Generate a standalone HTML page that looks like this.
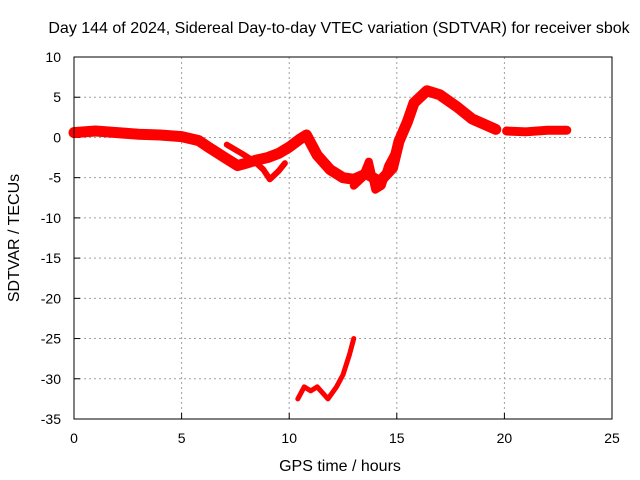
<!DOCTYPE html>
<html><head><meta charset="utf-8"><style>
body{margin:0;background:#fff}
svg{display:block;font-family:"Liberation Sans",sans-serif}
</style></head><body>
<svg id="chart" width="640" height="480">
<rect width="640" height="480" fill="#fff"/>
<text x="339" y="33" text-anchor="middle" font-size="16">Day 144 of 2024, Sidereal Day-to-day VTEC variation (SDTVAR) for receiver sbok</text>
<text x="340" y="471" text-anchor="middle" font-size="16">GPS time / hours</text>
<text transform="translate(19,238) rotate(-90)" text-anchor="middle" font-size="16">SDTVAR / TECUs</text>
<g id="grid"></g><g id="marks"></g>
<rect x="74" y="57" width="538" height="362" fill="none" stroke="#000"/>
</svg>
<script>
const xTicks=[0,5,10,15,20,25];
const yTicks=[10,5,0,-5,-10,-15,-20,-25,-30,-35];
const mainHours=[0,1,2,3,4,5,5.8,6.3,7,7.6,8,8.5,9,9.5,10,10.5,10.8,11.3,11.9,12.5,13,13.6,14.2,14.8,15.1,15.5,15.8,16.4,17,17.8,18.5,19.6];
const mainValues=[0.6,0.8,0.6,0.4,0.3,0.1,-0.4,-1.3,-2.5,-3.5,-3.2,-2.8,-2.5,-2,-1.2,-0.2,0.3,-2.2,-4,-5,-5.2,-4.5,-5.5,-3.8,-0.5,2,4.3,5.8,5.3,3.8,2.3,1];
const spreadHours=[13,13.4,13.7,14,14.3,14.6,14.9];
const spreadValues=[-6,-5,-3,-6.5,-6,-3.5,-2];
const tailHours=[20.1,21,22,22.9];
const tailValues=[0.8,0.7,0.9,0.9];
const loopHours=[7.1,7.8,8.4,8.8,9.1,9.5,9.8];
const loopValues=[-0.9,-2,-3,-4,-5.2,-4.2,-3.2];
const lowHours=[10.4,10.7,11,11.3,11.8,12.2,12.5,12.8,13];
const lowValues=[-32.5,-31,-31.5,-31,-32.5,-31,-29.5,-27,-25];
const X=h=>74+h*538/25, Y=v=>57+(10-v)*362/45;
const NS='http://www.w3.org/2000/svg';
const grid=document.getElementById('grid'),marks=document.getElementById('marks');
function mk(t,a,p){const e=document.createElementNS(NS,t);for(const k in a)e.setAttribute(k,a[k]);p.appendChild(e);return e;}
xTicks.forEach(t=>{
 if(t>0&&t<25){const l=mk('line',{x1:X(t),x2:X(t),y1:57,y2:419,stroke:'#a0a0a0','stroke-dasharray':'2,3'},grid);
 
 }
 const k=mk('line',{x1:X(t),x2:X(t),y1:419,y2:413,stroke:'#000'},grid);
 
 
 const tx=mk('text',{x:X(t),y:443,'text-anchor':'middle','font-size':14},grid);tx.textContent=t;
 
 
});
yTicks.forEach(t=>{
 if(t<10&&t>-35){const l=mk('line',{x1:74,x2:612,y1:Y(t),y2:Y(t),stroke:'#a0a0a0','stroke-dasharray':'2,3'},grid);
 
 }
 const k=mk('line',{x1:74,x2:80,y1:Y(t),y2:Y(t),stroke:'#000'},grid);
 
 
 const tx=mk('text',{x:61,y:Y(t)+5,'text-anchor':'end','font-size':14},grid);tx.textContent=t;
 
 
});
function series(hs,vs,w,name){
 const pts=hs.map((h,i)=>X(h)+','+Y(vs[i])).join(' ');
 const p=mk('polyline',{points:pts,fill:'none',stroke:'#f00','stroke-width':w,'stroke-linejoin':'round','stroke-linecap':'round'},marks);
 
 
}
series(mainHours,mainValues,11,'main-series');
series(spreadHours,spreadValues,8,'spread-series');
series(tailHours,tailValues,9,'tail-series');
series(loopHours,loopValues,6,'loop-series');
series(lowHours,lowValues,5,'low-series');
</script>
</body></html>
